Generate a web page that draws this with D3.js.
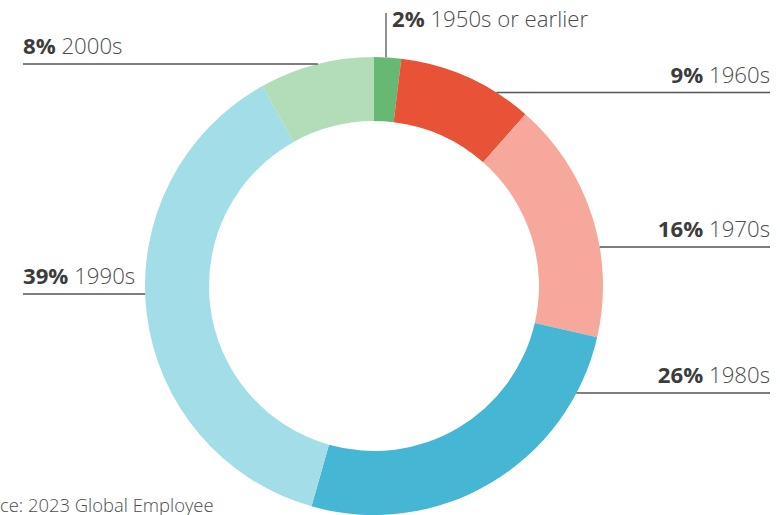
<!DOCTYPE html>
<html>
<head>
<meta charset="utf-8">
<script src="https://cdn.jsdelivr.net/npm/d3@7"></script>
<style>
  body { margin: 0; background: #fff; }
  svg { display: block; }
  text { font-family: "Open Sans", "Noto Sans", sans-serif; fill: #4c4c4c; font-weight: 300; }
  .pct { font-weight: 700; fill: #3c3c3c; }
</style>
</head>
<body>
<svg id="chart" width="780" height="515"></svg>
<script>
// decades of birth, clockwise from 12 o'clock
var decades = ['1950s or earlier', '1960s', '1970s', '1980s', '1990s', '2000s'];
var shares = [1.9, 9.6, 17.1, 25.8, 37.5, 8.1];
// printed labels
var pctLabels = ['2%', '9%', '16%', '26%', '39%', '8%'];

var colors = ['#66b872', '#e85236', '#f5a89b', '#45b6d3', '#a2dde8', '#b3dcb9'];

var W = 780, H = 515;
var cx = 374, cy = 286, rOut = 229, rIn = 165;
var fontSize = 22.2;

// where each callout sits: 'top' = vertical tick, 'left'/'right' = horizontal rule
var callouts = [
  {side: 'top', x: 386, y: 27},
  {side: 'right', y: 92.5},
  {side: 'right', y: 247},
  {side: 'right', y: 393},
  {side: 'left', y: 294},
  {side: 'left', y: 64}
];
var leftX = 23, rightX = 770;

var svg = d3.select('#chart');

var pie = d3.pie().sort(null).value(function (d) { return d; });
var arc = d3.arc().innerRadius(rIn).outerRadius(rOut);

var g = svg.append('g').attr('transform', 'translate(' + cx + ',' + cy + ')');
g.selectAll('path')
  .data(pie(shares))
  .enter().append('path')
  .attr('d', arc)
  .attr('fill', function (d, i) { return colors[i]; });

// x of the outer edge of the ring at a given y
function edgeX(y, side) {
  var dy = y - cy;
  var dx = Math.sqrt(Math.max(0, rOut * rOut - dy * dy));
  return side === 'left' ? cx - dx : cx + dx;
}

function label(t, i) {
  t.append('tspan').attr('class', 'pct').text(pctLabels[i]);
  t.append('tspan').text(' ' + decades[i]);
}

callouts.forEach(function (c, i) {
  if (c.side === 'top') {
    svg.append('line')
      .attr('x1', c.x).attr('x2', c.x)
      .attr('y1', c.y - 14).attr('y2', cy - Math.sqrt(rOut * rOut - (c.x - cx) * (c.x - cx)))
      .attr('stroke', '#555').attr('stroke-width', 1.3);
    label(svg.append('text').attr('x', c.x + 6).attr('y', c.y).style('font-size', fontSize + 'px'), i);
    return;
  }
  var x1 = c.side === 'left' ? leftX : edgeX(c.y, 'right');
  var x2 = c.side === 'left' ? edgeX(c.y, 'left') : rightX;
  svg.append('line')
    .attr('x1', x1).attr('x2', x2)
    .attr('y1', c.y).attr('y2', c.y)
    .attr('stroke', '#555').attr('stroke-width', 1.3);
  label(svg.append('text')
    .attr('x', c.side === 'left' ? leftX : rightX)
    .attr('y', c.y - 10)
    .attr('text-anchor', c.side === 'left' ? 'start' : 'end')
    .style('font-size', fontSize + 'px'), i);
});

// source note, runs off the left edge in the original
var note = svg.append('text').attr('y', 512).style('font-size', '18.4px');
var pre = note.append('tspan').text('Source: ');
note.append('tspan').text('2023 Global Employee');
note.attr('x', 28 - pre.node().getComputedTextLength());
</script>
</body>
</html>
